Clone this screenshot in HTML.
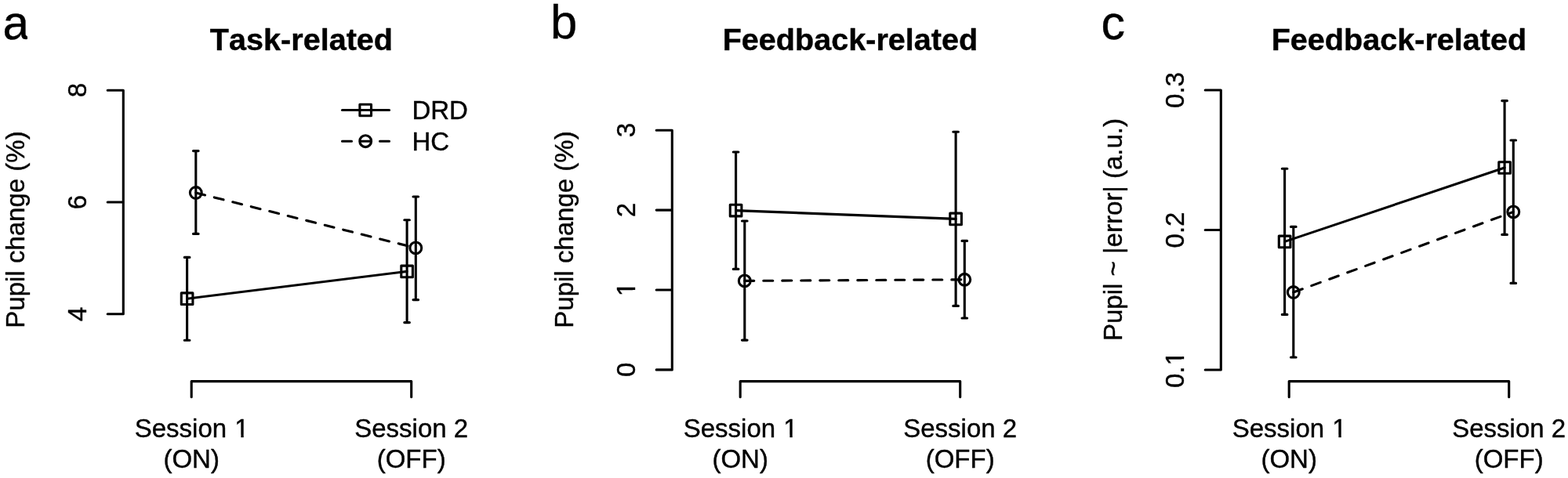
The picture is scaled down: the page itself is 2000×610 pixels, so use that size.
<!DOCTYPE html>
<html lang="en">
<head>
<meta charset="utf-8">
<title>Pupil change figure</title>
<style>
html,body{margin:0;padding:0;background:#fff;}
body{width:2000px;height:610px;overflow:hidden;}
svg{display:block;}
text{font-family:"Liberation Sans",Arial,Helvetica,sans-serif;fill:#000;font-kerning:none;stroke:#000;stroke-width:0.4px;stroke-linejoin:round;}
.tx{font-size:33.0px;}
.tt{font-size:39.6px;font-weight:bold;}
.pl{font-size:61.5px;}
.ln{fill:none;stroke:#000;stroke-width:3.1;stroke-linecap:round;stroke-linejoin:round;}
.ds{stroke-dasharray:12.0 12.0;}
</style>
</head>
<body>
<svg width="2000" height="610" viewBox="0 0 2000 610">
<defs>
<clipPath id="nf" clipPathUnits="userSpaceOnUse">
<rect x="-500" y="-60" width="1000" height="57"/>
<rect x="-500" y="-60" width="501.2" height="120"/>
<rect x="8.1" y="-3.5" width="3.3" height="4.5"/>
</clipPath>
<clipPath id="ca" clipPathUnits="userSpaceOnUse"><rect x="0" y="0" width="35.1" height="61"/></clipPath>
</defs>
<rect x="0" y="0" width="2000" height="610" fill="#fff"/>
<g transform="translate(0,0)">
<text class="pl" style="font-size:60.3px" x="3.5" y="50.0" clip-path="url(#ca)">a</text>
<text class="tt" x="384.45" y="64.4" text-anchor="middle">Task-related</text>
<path class="ln" d="M157.3 115.2V400.8M157.3 400.8h-20.1M157.3 258h-20.1M157.3 115.2h-20.1M244.2 486.6H524.7M244.2 486.6v20.1M524.7 486.6v20.1"/>
<text class="tx" transform="translate(110,400.8) rotate(-90)" text-anchor="middle">4</text>
<text class="tx" transform="translate(110,258) rotate(-90)" text-anchor="middle">6</text>
<text class="tx" transform="translate(110,115.2) rotate(-90)" text-anchor="middle">8</text>
<text class="tx" transform="translate(31,293) rotate(-90)" text-anchor="middle">Pupil change (%)</text>
<g transform="translate(299.31,557.8)" clip-path="url(#nf)"><text class="tx" x="-127.57" y="0">Session <tspan dx="1">1</tspan></text></g>
<text class="tx" x="244.2" y="597" text-anchor="middle">(ON)</text>
<text class="tx" x="524.7" y="557.8" text-anchor="middle">Session 2</text>
<text class="tx" x="524.7" y="597" text-anchor="middle">(OFF)</text>
<path class="ln" d="M238.6 381.2L519.1 346.4"/>
<path class="ln" stroke-dasharray="12.11 12.11" d="M249.8 246L530.3 316.4"/>
<path class="ln" d="M238.6 328.4V434.2M235.3 328.4h6.6M235.3 434.2h6.6M519.1 280.8V411.6M515.8 280.8h6.6M515.8 411.6h6.6M249.8 192.6V298.4M246.5 192.6h6.6M246.5 298.4h6.6M530.3 251V382.6M527 251h6.6M527 382.6h6.6"/>
<rect class="ln" x="231.3" y="373.9" width="14.6" height="14.6"/>
<rect class="ln" x="511.8" y="339.1" width="14.6" height="14.6"/>
<circle class="ln" cx="249.8" cy="246" r="7.4"/>
<circle class="ln" cx="530.3" cy="316.4" r="7.4"/>
<path class="ln" d="M436.5 140.5H496.5"/>
<path class="ln ds" d="M436.5 180.2H496.5"/>
<rect class="ln" x="458.9" y="133.2" width="14.6" height="14.6"/>
<circle class="ln" cx="466.2" cy="180.2" r="7.4"/>
<text class="tx" x="525.4" y="152.3">DRD</text>
<text class="tx" x="525.4" y="191.9">HC</text>
</g>
<g transform="translate(700,0)">
<text class="pl" style="font-size:61.5px" x="2.1" y="49.4">b</text>
<text class="tt" x="384.45" y="64.4" text-anchor="middle">Feedback-related</text>
<path class="ln" d="M157.3 166.2V471.9M157.3 471.9h-20.1M157.3 370h-20.1M157.3 268.1h-20.1M157.3 166.2h-20.1M244.2 486.6H524.7M244.2 486.6v20.1M524.7 486.6v20.1"/>
<text class="tx" transform="translate(110,471.9) rotate(-90)" text-anchor="middle">0</text>
<g transform="translate(110,378.18) rotate(-90)" clip-path="url(#nf)"><text class="tx" x="0" y="0">1</text></g>
<text class="tx" transform="translate(110,268.1) rotate(-90)" text-anchor="middle">2</text>
<text class="tx" transform="translate(110,166.2) rotate(-90)" text-anchor="middle">3</text>
<text class="tx" transform="translate(31,293) rotate(-90)" text-anchor="middle">Pupil change (%)</text>
<g transform="translate(299.31,557.8)" clip-path="url(#nf)"><text class="tx" x="-127.57" y="0">Session <tspan dx="1">1</tspan></text></g>
<text class="tx" x="244.2" y="597" text-anchor="middle">(ON)</text>
<text class="tx" x="524.7" y="557.8" text-anchor="middle">Session 2</text>
<text class="tx" x="524.7" y="597" text-anchor="middle">(OFF)</text>
<path class="ln" d="M238.6 268.6L519.1 279.4"/>
<path class="ln" stroke-dasharray="12 12" d="M249.8 358.4L530.3 356.8"/>
<path class="ln" d="M238.6 194V343.4M235.3 194h6.6M235.3 343.4h6.6M519.1 168.2V390.4M515.8 168.2h6.6M515.8 390.4h6.6M249.8 282V434.1M246.5 282h6.6M246.5 434.1h6.6M530.3 307.4V406M527 307.4h6.6M527 406h6.6"/>
<rect class="ln" x="231.3" y="261.3" width="14.6" height="14.6"/>
<rect class="ln" x="511.8" y="272.1" width="14.6" height="14.6"/>
<circle class="ln" cx="249.8" cy="358.4" r="7.4"/>
<circle class="ln" cx="530.3" cy="356.8" r="7.4"/>
</g>
<g transform="translate(1400,0)">
<text class="pl" style="font-size:61.0px" x="4.4" y="50.4">c</text>
<text class="tt" x="384.45" y="64.4" text-anchor="middle">Feedback-related</text>
<path class="ln" d="M157.3 115V472M157.3 472h-20.1M157.3 293.5h-20.1M157.3 115h-20.1M244.2 486.6H524.7M244.2 486.6v20.1M524.7 486.6v20.1"/>
<g transform="translate(110,466.42) rotate(-90)" clip-path="url(#nf)"><text class="tx" x="-28.52" y="0">0.<tspan dx="1">1</tspan></text></g>
<text class="tx" transform="translate(110,293.5) rotate(-90)" text-anchor="middle">0.2</text>
<text class="tx" transform="translate(110,115) rotate(-90)" text-anchor="middle">0.3</text>
<text class="tx" transform="translate(31,293) rotate(-90)" text-anchor="middle">Pupil ~ |error| (a.u.)</text>
<g transform="translate(299.31,557.8)" clip-path="url(#nf)"><text class="tx" x="-127.57" y="0">Session <tspan dx="1">1</tspan></text></g>
<text class="tx" x="244.2" y="597" text-anchor="middle">(ON)</text>
<text class="tx" x="524.7" y="557.8" text-anchor="middle">Session 2</text>
<text class="tx" x="524.7" y="597" text-anchor="middle">(OFF)</text>
<path class="ln" d="M238.6 308.4L519.1 214"/>
<path class="ln" stroke-dasharray="12.23 12.23" d="M249.8 373L530.3 270.4"/>
<path class="ln" d="M238.6 215.2V401.4M235.3 215.2h6.6M235.3 401.4h6.6M519.1 128.6V299.4M515.8 128.6h6.6M515.8 299.4h6.6M249.8 289.4V456M246.5 289.4h6.6M246.5 456h6.6M530.3 179V361.4M527 179h6.6M527 361.4h6.6"/>
<rect class="ln" x="231.3" y="301.1" width="14.6" height="14.6"/>
<rect class="ln" x="511.8" y="206.7" width="14.6" height="14.6"/>
<circle class="ln" cx="249.8" cy="373" r="7.4"/>
<circle class="ln" cx="530.3" cy="270.4" r="7.4"/>
</g>
</svg>
</body>
</html>
